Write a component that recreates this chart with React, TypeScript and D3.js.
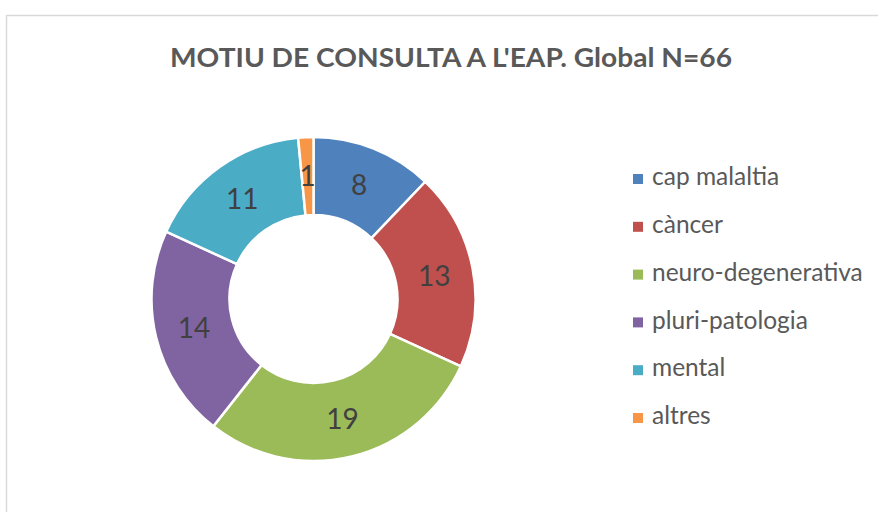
import * as d3 from "d3";

const CATEGORIES = ["cap malaltia", "càncer", "neuro-degenerativa", "pluri-patologia", "mental", "altres"];
const VALUES = [8, 13, 19, 14, 11, 1];
const COLORS = ["#4F81BD", "#C0504D", "#9BBB59", "#8064A2", "#4BACC6", "#F79646"];
const TITLE = "MOTIU DE CONSULTA A L'EAP. Global N=66";

type Slice = { name: string; value: number; color: string };

export default function App() {
	const width = 878;
	const height = 512;

	// Donut geometry
	const cx = 313.5;
	const cy = 299;
	const outerR = 162;
	const innerR = 84;

	const data: Slice[] = CATEGORIES.map((name, i) => ({ name, value: VALUES[i], color: COLORS[i] }));

	const pie = d3.pie<Slice>()
		.value(d => d.value)
		.sort(null);

	const arcs = pie(data);

	const arc = d3.arc<d3.PieArcDatum<Slice>>()
		.innerRadius(innerR)
		.outerRadius(outerR);

	const labelArc = d3.arc<d3.PieArcDatum<Slice>>()
		.innerRadius((innerR + outerR) / 2)
		.outerRadius((innerR + outerR) / 2);

	// Legend rows
	const legendY = d3.scalePoint<string>()
		.domain(CATEGORIES)
		.range([179, 418]);

	return (
		<svg width={width} height={height} style={{ position: "absolute", left: 0, top: 0, background: "#fff" }}>
			{/* chart border */}
			<rect x={6.5} y={15.5} width={width + 20} height={height + 20} fill="#fff" stroke="#d9d9d9" strokeWidth={1.5} />

			<text
				x={451}
				y={67}
				textAnchor="middle"
				fontFamily="Lato, 'Open Sans', sans-serif"
				fontWeight="bold"
				fontSize={26}
				fill="#595959"
				textLength={562}
				lengthAdjust="spacingAndGlyphs"
			>
				{TITLE}
			</text>

			<g transform={`translate(${cx},${cy})`}>
				{arcs.map(a => (
					<path key={a.data.name} d={arc(a) ?? ""} fill={a.data.color} stroke="#fff" strokeWidth={2.5} />
				))}
				{arcs.map(a => {
					const [lx, ly] = labelArc.centroid(a);
					return (
						<text
							key={"l" + a.data.name}
							x={lx}
							y={ly}
							dy="0.36em"
							textAnchor="middle"
							fontFamily="Lato, 'Open Sans', sans-serif"
							fontSize={28}
							fill="#404040"
						>
							{a.data.value}
						</text>
					);
				})}
			</g>

			<g>
				{data.map(d => (
					<g key={"lg" + d.name} transform={`translate(633,${legendY(d.name)})`}>
						<rect x={0} y={-5} width={10} height={10} fill={d.color} />
						<text
							x={19}
							y={0}
							dy="0.25em"
							fontFamily="Lato, 'Open Sans', sans-serif"
							fontSize={24.5}
							fill="#595959"
						>
							{d.name}
						</text>
					</g>
				))}
			</g>
		</svg>
	);
}
